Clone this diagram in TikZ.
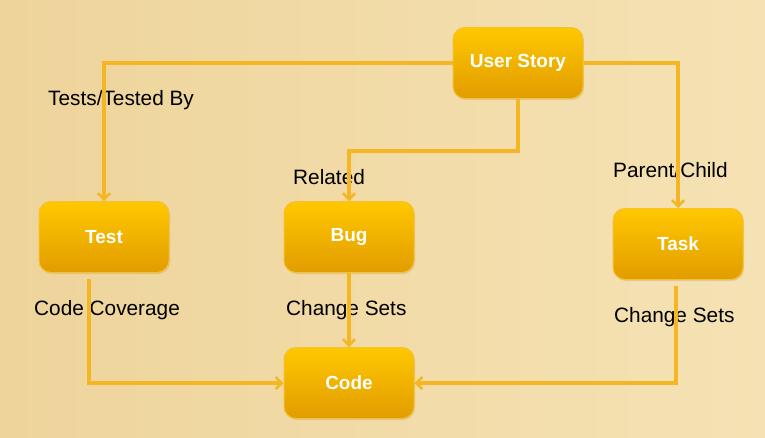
\documentclass[tikz,border=0pt]{standalone}
\usepackage{fontspec}
\setmainfont{Liberation Sans}
\usetikzlibrary{arrows.meta, shadows}
\definecolor{USgold}{RGB}{255,200,0}
\definecolor{USamber}{RGB}{226,156,0}
\definecolor{USedge}{RGB}{247,192,45}
\definecolor{USline}{RGB}{245,182,35}
\definecolor{USpaper}{RGB}{245,226,180}
\definecolor{USpaperdark}{RGB}{238,212,155}

\begin{document}
\begin{tikzpicture}[x=1pt, y=-1pt,
    item/.style={rounded corners=12pt, draw=USedge, line width=1pt,
       top color=USgold, bottom color=USamber,
       minimum width=130pt, minimum height=71pt, text=white,
       font=\fontsize{19}{22}\selectfont\bfseries,
       drop shadow={opacity=0.2, shadow xshift=1pt, shadow yshift=-1.5pt}},
    link/.style={USline, line width=3.2pt,
       -{Straight Barb[length=6pt, width=12pt, line width=2.6pt]}},
    tag/.style={anchor=west, inner sep=0pt, font=\fontsize{20.8}{24}\selectfont}]
            % Paper background
            \useasboundingbox (0,0) rectangle (765,437);
            \shade[left color=USpaperdark, right color=USpaper] (0,0) rectangle (765,437);
            % Work items
            \node[item] (story) at (518,63) {User Story};
            \node[item] (test) at (104,237) {Test};
            \node[item] (bug) at (349,237) {Bug};
            \node[item] (task) at (678,244) {Task};
            \node[item] (code) at (349,383) {Code};
            % Link labels
            \node[tag] (testedby) at (48,100) {Tests/Tested By};
            \node[tag] (related) at (293,177) {Related};
            \node[tag] (parent) at (613,170) {Parent/Child};
            \node[tag] (coverage) at (34,310) {Code Coverage};
            \node[tag] (bugsets) at (286,310) {Change Sets};
            \node[tag] (tasksets) at (614,317) {Change Sets};
            % Links from the story
            \draw[link] (story.west) -| (test.north);
            \draw[link] (story.east) -| (task.north);
            \draw[link] (story.south) -- ++(0,52) -| (bug.north);
            % Change sets into code
            \draw[link, shorten <=6pt] ([xshift=-15pt]test.south) |- (code.west);
            \draw[link] (bug.south) -- (code.north);
            \draw[link, shorten <=6pt] ([xshift=-2pt]task.south) |- (code.east);
         \end{tikzpicture}
\end{document}
